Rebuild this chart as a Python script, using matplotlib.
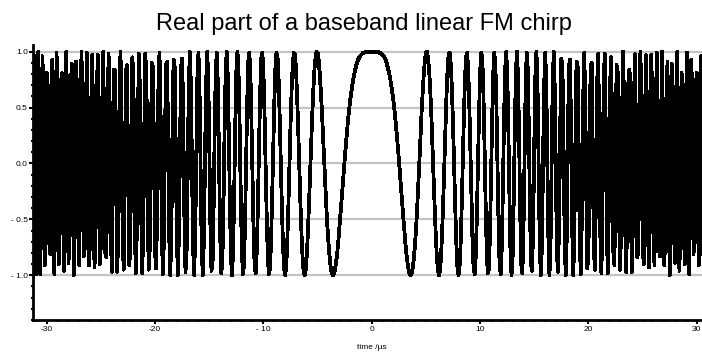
import numpy as np
import matplotlib
matplotlib.use("Agg")
import matplotlib.pyplot as plt
from matplotlib.ticker import FixedLocator, MultipleLocator

plt.rcParams["font.family"] = ["Liberation Sans", "DejaVu Sans"]

# ---------------------------------------------------------------------------
# Data: chirp samples every 0.1 us for t >= 0 (the real part is even in t,
# so the negative-time half is the mirror image)
# ---------------------------------------------------------------------------
t_step = 0.1
t_max = 31.25
amp_right = [
    1.00, 1.00, 1.00, 1.00, 1.00, 1.00, 1.00, 0.99, 0.99, 0.98,
    0.97, 0.96, 0.94, 0.92, 0.89, 0.85, 0.81, 0.76, 0.70, 0.63,
    0.56, 0.47, 0.38, 0.27, 0.16, 0.04, -0.09, -0.21, -0.34, -0.47,
    -0.59, -0.71, -0.81, -0.89, -0.95, -0.99, -1.00, -0.98, -0.92, -0.83,
    -0.71, -0.56, -0.38, -0.18, 0.03, 0.25, 0.46, 0.64, 0.80, 0.92,
    0.99, 1.00, 0.94, 0.83, 0.65, 0.43, 0.17, -0.11, -0.38, -0.63,
    -0.82, -0.95, -1.00, -0.96, -0.82, -0.60, -0.32, 0.00, 0.33, 0.62,
    0.85, 0.98, 0.99, 0.88, 0.66, 0.35, -0.02, -0.38, -0.70, -0.92,
    -1.00, -0.93, -0.72, -0.39, 0.01, 0.41, 0.75, 0.95, 0.99, 0.85,
    0.54, 0.13, -0.31, -0.70, -0.94, -0.99, -0.83, -0.48, -0.03, 0.44,
    0.81, 0.99, 0.94, 0.65, 0.20, -0.31, -0.74, -0.98, -0.95, -0.67,
    -0.19, 0.34, 0.78, 0.99, 0.91, 0.55, 0.01, -0.53, -0.91, -0.99,
    -0.75, -0.25, 0.34, 0.81, 1.00, 0.83, 0.36, -0.25, -0.77, -1.00,
    -0.84, -0.35, 0.28, 0.80, 1.00, 0.78, 0.23, -0.43, -0.90, -0.98,
    -0.62, 0.02, 0.66, 0.99, 0.85, 0.31, -0.39, -0.90, -0.96, -0.54,
    0.16, 0.78, 1.00, 0.69, 0.00, -0.68, -1.00, -0.76, -0.09, 0.64,
    0.99, 0.77, 0.09, -0.65, -1.00, -0.74, -0.02, 0.71, 1.00, 0.64,
    -0.13, -0.82, -0.97, -0.47, 0.35, 0.94, 0.87, 0.20, -0.62, -1.00,
    -0.66, 0.17, 0.87, 0.93, 0.29, -0.58, -1.00, -0.65, 0.21, 0.91,
    0.88, 0.14, -0.72, -0.99, -0.44, 0.48, 0.99, 0.66, -0.25, -0.94,
    -0.81, 0.04, 0.86, 0.90, 0.12, -0.77, -0.95, -0.24, 0.70, 0.98,
    0.31, -0.65, -0.98, -0.35, 0.64, 0.98, 0.33, -0.66, -0.98, -0.28,
    0.71, 0.95, 0.18, -0.79, -0.91, -0.04, 0.88, 0.82, -0.15, -0.95,
    -0.68, 0.37, 1.00, 0.47, -0.61, -0.97, -0.18, 0.83, 0.84, -0.17,
    -0.97, -0.58, 0.54, 0.98, 0.19, -0.84, -0.80, 0.27, 1.00, 0.42,
    -0.71, -0.90, 0.10, 0.97, 0.53, -0.64, -0.93, 0.06, 0.97, 0.53,
    -0.66, -0.91, 0.13, 0.99, 0.42, -0.76, -0.83, 0.33, 1.00, 0.18,
    -0.91, -0.63, 0.61, 0.91, -0.19, -1.00, -0.26, 0.89, 0.63, -0.63,
    -0.89, 0.28, 1.00, 0.10, -0.96, -0.44, 0.81, 0.71, -0.58, -0.90,
    0.30, 0.99, -0.02, -0.99, -0.25, 0.93, 0.48, -0.81, -0.67, 0.67,
    0.81, -0.51, -0.91, 0.34, 0.96, -0.19, -0.99, 0.04, 1.00, 0.08,
    -0.99, -0.18, 0.97, 0.26,
]

x_ticks = [-30, -20, -10, 0, 10, 20, 30]
x_tick_labels = ["-30", "-20", "- 10", "0", "10", "20", "30"]
y_ticks = [-1.0, -0.5, 0.0, 0.5, 1.0]
y_tick_labels = ["- 1.0", "- 0.5", "0.0", "0.5", "1.0"]

amp = np.array(amp_right[:0:-1] + amp_right)
n_half = len(amp_right) - 1
t = np.arange(-n_half, n_half + 1) * t_step

# ---------------------------------------------------------------------------
# Plot
# ---------------------------------------------------------------------------
fig = plt.figure(figsize=(7.02, 3.53), dpi=100)
ax = fig.add_axes([0.0474, 0.0935, 0.9644, 0.779])

for y in y_ticks:
    ax.axhline(y, color="#c4c4c4", linewidth=1.6, zorder=1)

ax.plot(t, amp, color="black", linewidth=2.0, antialiased=False, zorder=2)

ax.set_xlim(-t_max, t_max)
ax.set_ylim(-1.4, 1.06)

ax.spines["top"].set_visible(False)
ax.spines["right"].set_visible(False)
ax.spines["left"].set_linewidth(2)
ax.spines["bottom"].set_linewidth(2)

ax.xaxis.set_major_locator(FixedLocator(x_ticks))
ax.set_xticklabels(x_tick_labels)
ax.xaxis.set_minor_locator(MultipleLocator(1))
ax.yaxis.set_major_locator(FixedLocator(y_ticks))
ax.set_yticklabels(y_tick_labels)
ax.yaxis.set_minor_locator(MultipleLocator(0.1))

ax.tick_params(which="major", direction="out", length=3, width=1.5,
               labelsize=6, pad=1)
ax.tick_params(which="minor", direction="out", length=1.5, width=1.5)

ax.set_xlabel("time /\u00b5s", fontsize=6, labelpad=8.5)
fig.text(0.5185, 0.915, "Real part of a baseband linear FM chirp",
         fontsize=17, ha="center", va="baseline")

fig.savefig("out.png", dpi=100)
